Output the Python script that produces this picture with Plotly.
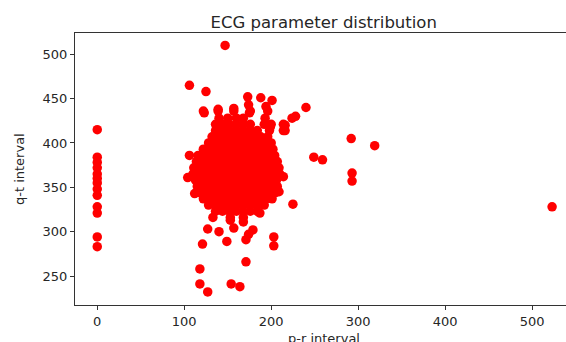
import plotly.graph_objects as go

# ---- data ----
# records with p-r interval of 0
zero_pr = [0, 0, 0, 0, 0, 0, 0, 0, 0, 0, 0, 0, 0]
zero_qt = [415, 384, 378, 372, 365, 360, 355, 348, 341, 328, 321, 294, 283]

# dense central cluster, row by row (q-t value -> p-r values)
cluster_rows = {
    436: [122, 139, 157, 176, 196],
    428: [140, 150, 160, 168, 193],
    421: [136, 144, 152, 160, 168, 176, 192, 200, 214],
    414: [136, 144, 152, 160, 168, 176, 184, 198, 214],
    407: [132, 140, 148, 156, 164, 172, 180, 188, 196],
    400: [128, 136, 144, 152, 160, 168, 176, 184, 192, 200],
    393: [122, 130, 138, 146, 154, 162, 170, 178, 186, 194, 202],
    386: [116, 124, 132, 140, 148, 156, 164, 172, 180, 188, 196, 204],
    379: [114, 122, 130, 138, 146, 154, 162, 170, 178, 186, 194, 202, 207],
    372: [111, 118, 126, 134, 142, 150, 158, 166, 174, 182, 190, 198, 206, 209],
    365: [110, 116, 124, 132, 140, 148, 156, 164, 172, 180, 188, 196, 204, 210],
    358: [113, 120, 128, 136, 144, 152, 160, 168, 176, 184, 192, 200, 206],
    351: [115, 122, 130, 138, 146, 154, 162, 170, 178, 186, 194, 202, 207],
    344: [118, 126, 134, 142, 150, 158, 166, 174, 182, 190, 198, 205],
    337: [122, 130, 138, 146, 154, 162, 170, 178, 186, 194, 201],
    330: [128, 136, 144, 152, 160, 168, 176, 184, 192],
    323: [136, 144, 152, 160, 168, 176, 184],
    316: [133, 153, 168],
}

# scattered records around the cluster
outlier_pr = [147, 106, 125, 123, 173, 188, 201, 194, 174, 175, 240, 228, 224,
              216, 216, 199, 193, 292, 319, 249, 259, 293, 293, 225, 523, 104,
              106, 112, 214, 209, 199, 127, 121, 140, 149, 118, 118, 127, 154,
              164, 171, 168, 171, 174, 179, 157, 153, 203, 203, 139, 157, 187]
outlier_qt = [510, 465, 458, 434, 452, 451, 448, 441, 443, 434, 440, 430, 428,
              420, 414, 418, 405, 405, 397, 384, 381, 366, 357, 331, 328, 361,
              386, 343, 362, 345, 340, 303, 286, 300, 289, 258, 241, 232, 241,
              238, 266, 311, 291, 297, 302, 304, 313, 294, 284, 438, 439, 321]

x_ticks = [0, 100, 200, 300, 400, 500]
y_ticks = [250, 300, 350, 400, 450, 500]

# ---- assemble ----
pr = list(zero_pr)
qt = list(zero_qt)
for q, prs in cluster_rows.items():
    pr.extend(prs)
    qt.extend([q] * len(prs))
pr.extend(outlier_pr)
qt.extend(outlier_qt)

font = "DejaVu Sans, Verdana, sans-serif"
ink = "#262626"

fig = go.Figure(
    go.Scatter(
        x=pr, y=qt, mode="markers",
        marker=dict(color="#ff0000", size=9.5, line=dict(width=0)),
        hoverinfo="x+y",
    )
)

fig.update_layout(
    width=566, height=342,
    margin=dict(l=75, r=0, t=33, b=37),
    paper_bgcolor="white", plot_bgcolor="white",
    showlegend=False,
    font=dict(family=font, size=13, color=ink),
    title=dict(text="ECG parameter distribution", x=0.572, xanchor="center",
               y=0.935, yanchor="middle", yref="container",
               font=dict(family=font, size=16.5, color=ink)),
    annotations=[
        dict(text="p-r interval", xref="paper", yref="paper", x=0.507, y=-0.09,
             xanchor="center", yanchor="top", showarrow=False,
             font=dict(family=font, size=13, color=ink)),
        dict(text="q-t interval", xref="paper", yref="paper", x=-0.114, y=0.5,
             xanchor="center", yanchor="middle", showarrow=False, textangle=-90,
             font=dict(family=font, size=13, color=ink)),
    ],
)

fig.update_xaxes(
    range=[-25.6, 539], tickvals=x_ticks, ticktext=[str(v) for v in x_ticks],
    showgrid=False, zeroline=False, showline=True, linecolor="#333333",
    linewidth=1, mirror=True, ticks="outside", ticklen=4, tickwidth=1,
    tickcolor="#333333",
)
fig.update_yaxes(
    range=[217.3, 524], tickvals=y_ticks, ticktext=[str(v) for v in y_ticks],
    showgrid=False, zeroline=False, showline=True, linecolor="#333333",
    linewidth=1, mirror=False, ticks="outside", ticklen=4, tickwidth=1,
    tickcolor="#333333",
)

fig.write_html(
    "out.html",
    config={"displayModeBar": False},
    post_script="document.body.style.margin='0';document.body.style.overflow='hidden';",
)
